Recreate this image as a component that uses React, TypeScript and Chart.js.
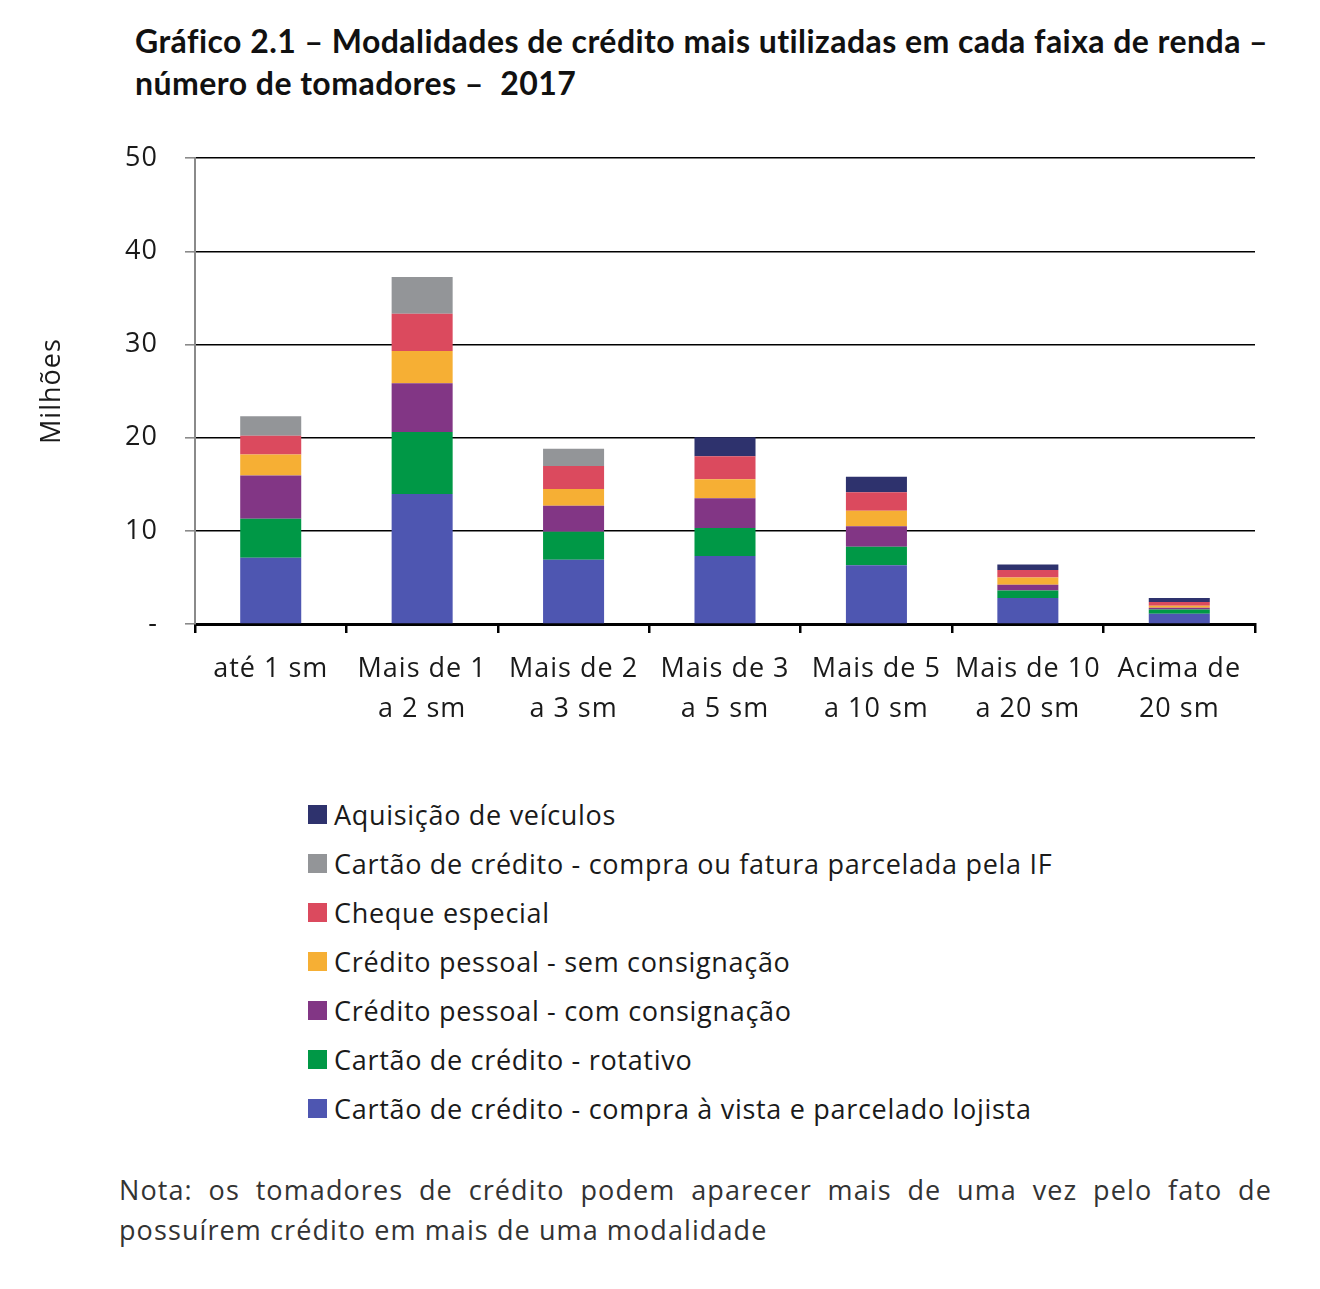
import React, { useEffect, useRef } from "react";
import { Chart, registerables } from "chart.js";

Chart.register(...registerables);

const categories: string[][] = [
  ["até 1 sm"],
  ["Mais de 1", "a 2 sm"],
  ["Mais de 2", "a 3 sm"],
  ["Mais de 3", "a 5 sm"],
  ["Mais de 5", "a 10 sm"],
  ["Mais de 10", "a 20 sm"],
  ["Acima de", "20 sm"],
];

const cartaoVista = [7.1, 13.95, 6.9, 7.3, 6.3, 2.8, 1.1];
const cartaoRotativo = [4.2, 6.65, 3.0, 3.0, 2.0, 0.8, 0.45];
const pessoalCom = [4.65, 5.25, 2.8, 3.2, 2.2, 0.6, 0.2];
const pessoalSem = [2.25, 3.45, 1.8, 2.05, 1.65, 0.8, 0.2];
const chequeEspecial = [2.0, 4.0, 2.45, 2.45, 2.0, 0.8, 0.4];
const cartaoParcelado = [2.1, 3.95, 1.85, 0, 0, 0, 0];
const veiculos = [0, 0, 0, 2.05, 1.65, 0.6, 0.45];

const yTicks = [0, 10, 20, 30, 40, 50];

const seriesNames = [
  "Cartão de crédito - compra à vista e parcelado lojista",
  "Cartão de crédito - rotativo",
  "Crédito pessoal - com consignação",
  "Crédito pessoal - sem consignação",
  "Cheque especial",
  "Cartão de crédito - compra ou fatura parcelada pela IF",
  "Aquisição de veículos",
];
const seriesData = [cartaoVista, cartaoRotativo, pessoalCom, pessoalSem, chequeEspecial, cartaoParcelado, veiculos];
const seriesColors = ["#4E56B1", "#009846", "#823685", "#F6AF34", "#DB4A5E", "#939598", "#2E326D"];

const FONT = "'Open Sans', 'Noto Sans', sans-serif";
const TITLE_FONT = "Lato, 'Open Sans', sans-serif";
const TEXT = "#1a1a1a";

const spacingPlugin = {
  id: "letterSpacing",
  beforeUpdate: (chart: any) => {
    (chart.ctx as any).letterSpacing = "1px";
  },
  beforeDraw: (chart: any) => {
    (chart.ctx as any).letterSpacing = "1px";
  },
};

export default function App() {
  const canvasRef = useRef<HTMLCanvasElement | null>(null);

  useEffect(() => {
    if (!canvasRef.current) return;
    const chart = new Chart(canvasRef.current, {
      type: "bar",
      data: {
        labels: categories,
        datasets: seriesNames.map((name, i) => ({
          label: name,
          data: seriesData[i],
          backgroundColor: seriesColors[i],
          borderWidth: 0,
          categoryPercentage: 1,
          barPercentage: 0.403,
        })),
      },
      plugins: [spacingPlugin],
      options: {
        responsive: false,
        animation: false,
        layout: { padding: { left: 0, right: 65, top: 10, bottom: 0 } },
        plugins: { legend: { display: false }, tooltip: { enabled: false } },
        scales: {
          x: {
            stacked: true,
            grid: {
              offset: true,
              drawOnChartArea: false,
              drawTicks: true,
              tickLength: 9,
              color: "#000000",
              tickColor: "#000000",
              lineWidth: 2.5,
            },
            border: { display: true, color: "#000000", width: 3 },
            ticks: {
              color: TEXT,
              font: { family: FONT, size: 27, lineHeight: 1.48 },
              padding: 16,
              maxRotation: 0,
              autoSkip: false,
            },
            afterFit: (scale: any) => {
              scale.height = 131;
            },
          },
          y: {
            stacked: true,
            min: 0,
            max: 50,
            afterBuildTicks: (scale: any) => {
              scale.ticks = yTicks.map((v) => ({ value: v }));
            },
            grid: {
              color: "#000000",
              lineWidth: 1.6,
              drawTicks: true,
              tickLength: 10,
              tickColor: "#8a8a8a",
            },
            border: { display: true, color: "#8a8a8a", width: 2 },
            ticks: {
              color: TEXT,
              font: { family: FONT, size: 27 },
              padding: 27,
              callback: (v: any) => (Number(v) === 0 ? "-" : String(v)),
            },
            title: {
              display: true,
              text: "Milhões",
              color: TEXT,
              font: { family: FONT, size: 27 },
              padding: { top: 36, bottom: 0 },
            },
            afterFit: (scale: any) => {
              scale.width = 195;
            },
          },
        },
      },
    });
    return () => chart.destroy();
  }, []);

  const legendOrder = [6, 5, 4, 3, 2, 1, 0];

  return (
    <div style={{ position: "absolute", left: 0, top: 0, width: 1320, height: 1289, background: "#fff", fontFamily: FONT, color: TEXT }}>
      <div
        style={{
          position: "absolute",
          left: 135,
          top: 20,
          fontFamily: TITLE_FONT,
          fontWeight: "bold",
          fontSize: 32,
          lineHeight: "42px",
          color: "#111",
          whiteSpace: "pre",
          letterSpacing: "0.45px",
        }}
      >
        <div>Gráfico 2.1 – Modalidades de crédito mais utilizadas em cada faixa de renda –</div>
        <div>{"número de tomadores –  2017"}</div>
      </div>
      <canvas ref={canvasRef} width={1320} height={640} style={{ position: "absolute", left: 0, top: 115, width: 1320, height: 640 }} />
      <div style={{ position: "absolute", left: 308, top: 790 }}>
        {legendOrder.map((i) => (
          <div key={i} style={{ display: "flex", alignItems: "center", height: 49, fontSize: 27, whiteSpace: "nowrap", letterSpacing: "0.7px" }}>
            <span style={{ display: "inline-block", width: 19, height: 19, background: seriesColors[i], marginRight: 7 }} />
            <span>{seriesNames[i]}</span>
          </div>
        ))}
      </div>
      <div
        style={{
          position: "absolute",
          left: 119,
          top: 1170,
          width: 1153,
          fontSize: 27,
          lineHeight: "40px",
          textAlign: "justify",
          textAlignLast: "left",
          color: "#333",
          fontWeight: 400,
          letterSpacing: "1.1px",
        }}
      >
        Nota: os tomadores de crédito podem aparecer mais de uma vez pelo fato de possuírem crédito em mais de uma modalidade
      </div>
    </div>
  );
}
